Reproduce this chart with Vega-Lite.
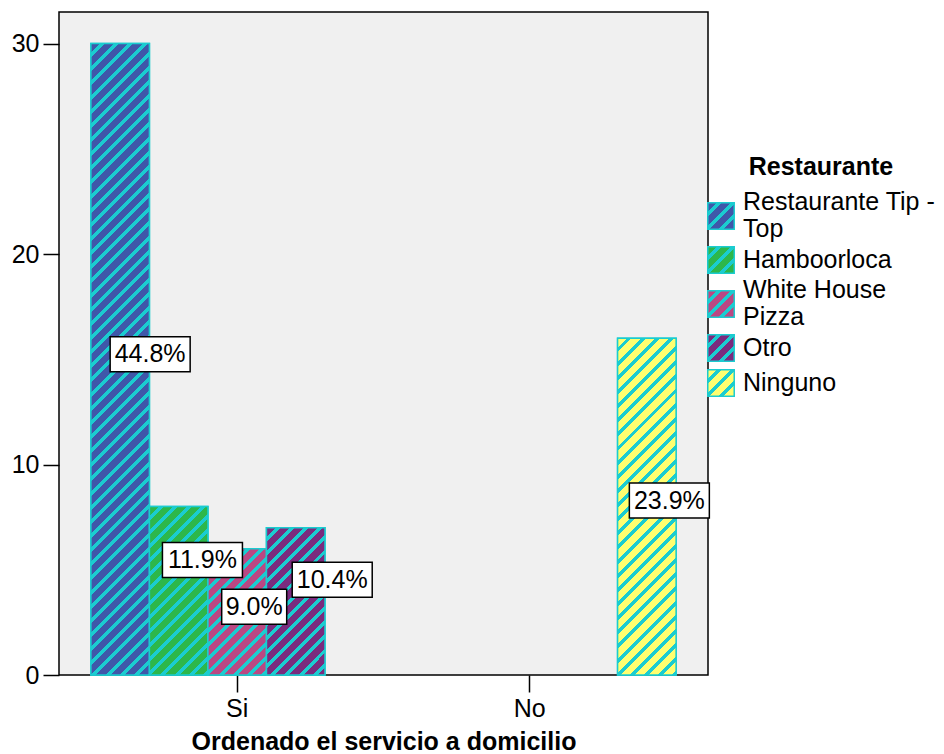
{
  "$schema": "https://vega.github.io/schema/vega-lite/v6.json",
  "width": 649,
  "height": 663,
  "autosize": "none",
  "padding": {"left": 59, "top": 12, "right": 236, "bottom": 79},
  "background": "white",
  "config": {
    "font": "Liberation Sans",
    "view": {"fill": "#F0F0F0", "stroke": "black", "strokeWidth": 1.5},
    "axis": {
      "domain": false,
      "tickColor": "black",
      "tickWidth": 1.5,
      "labelColor": "black",
      "labelFontSize": 25,
      "labelFont": "Liberation Sans",
      "titleColor": "black",
      "titleFontSize": 25,
      "titleFont": "Liberation Sans",
      "titleFontWeight": "bold",
      "grid": false
    }
  },
  "data": {
    "values": [
      {"servicio": "Si", "restaurante": "Restaurante Tip - Top", "count": 30, "pct": "44.8%"},
      {"servicio": "Si", "restaurante": "Hamboorloca", "count": 8, "pct": "11.9%"},
      {"servicio": "Si", "restaurante": "White House Pizza", "count": 6, "pct": "9.0%"},
      {"servicio": "Si", "restaurante": "Otro", "count": 7, "pct": "10.4%"},
      {"servicio": "No", "restaurante": "Ninguno", "count": 16, "pct": "23.9%"}
    ]
  },
  "encoding": {
    "x": {
      "field": "servicio",
      "type": "nominal",
      "sort": ["Si", "No"],
      "scale": {"paddingInner": 0, "paddingOuter": 0.109},
      "title": "Ordenado el servicio a domicilio",
      "axis": {"labelAngle": 0, "tickSize": 17, "labelPadding": 4, "titlePadding": 8}
    },
    "xOffset": {
      "field": "restaurante",
      "type": "nominal",
      "sort": ["Restaurante Tip - Top", "Hamboorloca", "White House Pizza", "Otro", "Ninguno"],
      "scale": {"domain": ["Restaurante Tip - Top", "Hamboorloca", "White House Pizza", "Otro", "Ninguno"]}
    }
  },
  "layer": [
    {
      "mark": {"type": "bar", "stroke": "#1BCCD0", "strokeWidth": 1.5, "opacity": 1},
      "encoding": {
        "y": {
          "field": "count",
          "type": "quantitative",
          "scale": {"domain": [0, 31.5], "nice": false},
          "title": null,
          "axis": {"values": [0, 10, 20, 30], "tickSize": 16, "labelPadding": 4}
        },
        "color": {
          "field": "restaurante",
          "type": "nominal",
          "scale": {
            "domain": ["Restaurante Tip - Top", "Hamboorloca", "White House Pizza", "Otro", "Ninguno"],
            "range": [
              {"expr": "{gradient:'linear',x1:0,y1:0,x2:1.067,y2:1.067,stops:[{offset:0,color:'#3F57A9'},{offset:0.1625,color:'#3F57A9'},{offset:0.1625,color:'#1BCCD0'},{offset:0.25,color:'#1BCCD0'},{offset:0.25,color:'#3F57A9'},{offset:0.4125,color:'#3F57A9'},{offset:0.4125,color:'#1BCCD0'},{offset:0.5,color:'#1BCCD0'},{offset:0.5,color:'#3F57A9'},{offset:0.6625,color:'#3F57A9'},{offset:0.6625,color:'#1BCCD0'},{offset:0.75,color:'#1BCCD0'},{offset:0.75,color:'#3F57A9'},{offset:0.9125,color:'#3F57A9'},{offset:0.9125,color:'#1BCCD0'},{offset:1,color:'#1BCCD0'}]}"},
              {"expr": "{gradient:'linear',x1:0,y1:0,x2:1.067,y2:1.067,stops:[{offset:0,color:'#2DB74B'},{offset:0.1625,color:'#2DB74B'},{offset:0.1625,color:'#1BCCD0'},{offset:0.25,color:'#1BCCD0'},{offset:0.25,color:'#2DB74B'},{offset:0.4125,color:'#2DB74B'},{offset:0.4125,color:'#1BCCD0'},{offset:0.5,color:'#1BCCD0'},{offset:0.5,color:'#2DB74B'},{offset:0.6625,color:'#2DB74B'},{offset:0.6625,color:'#1BCCD0'},{offset:0.75,color:'#1BCCD0'},{offset:0.75,color:'#2DB74B'},{offset:0.9125,color:'#2DB74B'},{offset:0.9125,color:'#1BCCD0'},{offset:1,color:'#1BCCD0'}]}"},
              {"expr": "{gradient:'linear',x1:0,y1:0,x2:1.067,y2:1.067,stops:[{offset:0,color:'#BA4883'},{offset:0.1625,color:'#BA4883'},{offset:0.1625,color:'#1BCCD0'},{offset:0.25,color:'#1BCCD0'},{offset:0.25,color:'#BA4883'},{offset:0.4125,color:'#BA4883'},{offset:0.4125,color:'#1BCCD0'},{offset:0.5,color:'#1BCCD0'},{offset:0.5,color:'#BA4883'},{offset:0.6625,color:'#BA4883'},{offset:0.6625,color:'#1BCCD0'},{offset:0.75,color:'#1BCCD0'},{offset:0.75,color:'#BA4883'},{offset:0.9125,color:'#BA4883'},{offset:0.9125,color:'#1BCCD0'},{offset:1,color:'#1BCCD0'}]}"},
              {"expr": "{gradient:'linear',x1:0,y1:0,x2:1.067,y2:1.067,stops:[{offset:0,color:'#7A2B7E'},{offset:0.1625,color:'#7A2B7E'},{offset:0.1625,color:'#1BCCD0'},{offset:0.25,color:'#1BCCD0'},{offset:0.25,color:'#7A2B7E'},{offset:0.4125,color:'#7A2B7E'},{offset:0.4125,color:'#1BCCD0'},{offset:0.5,color:'#1BCCD0'},{offset:0.5,color:'#7A2B7E'},{offset:0.6625,color:'#7A2B7E'},{offset:0.6625,color:'#1BCCD0'},{offset:0.75,color:'#1BCCD0'},{offset:0.75,color:'#7A2B7E'},{offset:0.9125,color:'#7A2B7E'},{offset:0.9125,color:'#1BCCD0'},{offset:1,color:'#1BCCD0'}]}"},
              {"expr": "{gradient:'linear',x1:0,y1:0,x2:1.067,y2:1.067,stops:[{offset:0,color:'#FFFF70'},{offset:0.1625,color:'#FFFF70'},{offset:0.1625,color:'#1BCCD0'},{offset:0.25,color:'#1BCCD0'},{offset:0.25,color:'#FFFF70'},{offset:0.4125,color:'#FFFF70'},{offset:0.4125,color:'#1BCCD0'},{offset:0.5,color:'#1BCCD0'},{offset:0.5,color:'#FFFF70'},{offset:0.6625,color:'#FFFF70'},{offset:0.6625,color:'#1BCCD0'},{offset:0.75,color:'#1BCCD0'},{offset:0.75,color:'#FFFF70'},{offset:0.9125,color:'#FFFF70'},{offset:0.9125,color:'#1BCCD0'},{offset:1,color:'#1BCCD0'}]}"}
            ]
          },
          "legend": {
            "orient": "none",
            "legendX": 648,
            "legendY": 143,
            "padding": 0,
            "title": "Restaurante",
            "titleAnchor": "middle",
            "titleFontSize": 25,
            "titleFontWeight": "bold",
            "titleColor": "black",
            "titlePadding": 22,
            "labelFontSize": 25,
            "labelColor": "black",
            "labelLimit": 300,
            "labelOffset": 8,
            "labelBaseline": {"expr": "datum.value == 'Restaurante Tip - Top' || datum.value == 'White House Pizza' ? 'line-bottom' : 'middle'"},
            "symbolType": "square",
            "symbolSize": 700,
            "symbolStrokeColor": "#1BCCD0",
            "symbolStrokeWidth": 1.5,
            "symbolOpacity": 1,
            "rowPadding": 1,
            "labelExpr": "datum.label == 'Restaurante Tip - Top' ? ['Restaurante Tip -', 'Top'] : datum.label == 'White House Pizza' ? ['White House', 'Pizza'] : datum.label"
          }
        }
      }
    },
    {
      "transform": [{"filter": "datum.restaurante == 'Restaurante Tip - Top'"}],
      "mark": {"type": "bar", "stroke": "#1BCCD0", "strokeWidth": 1.5, "fill": {"gradient": "linear", "x1": 0, "y1": 0, "x2": 0.1029, "y2": 1.1104, "stops": [
        {"offset":0,"color":"#3F57A9"},{"offset":0.013,"color":"#3F57A9"},{"offset":0.013,"color":"#1BCCD0"},{"offset":0.02,"color":"#1BCCD0"},
        {"offset":0.02,"color":"#3F57A9"},{"offset":0.033,"color":"#3F57A9"},{"offset":0.033,"color":"#1BCCD0"},{"offset":0.04,"color":"#1BCCD0"},
        {"offset":0.04,"color":"#3F57A9"},{"offset":0.053,"color":"#3F57A9"},{"offset":0.053,"color":"#1BCCD0"},{"offset":0.06,"color":"#1BCCD0"},
        {"offset":0.06,"color":"#3F57A9"},{"offset":0.073,"color":"#3F57A9"},{"offset":0.073,"color":"#1BCCD0"},{"offset":0.08,"color":"#1BCCD0"},
        {"offset":0.08,"color":"#3F57A9"},{"offset":0.093,"color":"#3F57A9"},{"offset":0.093,"color":"#1BCCD0"},{"offset":0.1,"color":"#1BCCD0"},
        {"offset":0.1,"color":"#3F57A9"},{"offset":0.113,"color":"#3F57A9"},{"offset":0.113,"color":"#1BCCD0"},{"offset":0.12,"color":"#1BCCD0"},
        {"offset":0.12,"color":"#3F57A9"},{"offset":0.133,"color":"#3F57A9"},{"offset":0.133,"color":"#1BCCD0"},{"offset":0.14,"color":"#1BCCD0"},
        {"offset":0.14,"color":"#3F57A9"},{"offset":0.153,"color":"#3F57A9"},{"offset":0.153,"color":"#1BCCD0"},{"offset":0.16,"color":"#1BCCD0"},
        {"offset":0.16,"color":"#3F57A9"},{"offset":0.173,"color":"#3F57A9"},{"offset":0.173,"color":"#1BCCD0"},{"offset":0.18,"color":"#1BCCD0"},
        {"offset":0.18,"color":"#3F57A9"},{"offset":0.193,"color":"#3F57A9"},{"offset":0.193,"color":"#1BCCD0"},{"offset":0.2,"color":"#1BCCD0"},
        {"offset":0.2,"color":"#3F57A9"},{"offset":0.213,"color":"#3F57A9"},{"offset":0.213,"color":"#1BCCD0"},{"offset":0.22,"color":"#1BCCD0"},
        {"offset":0.22,"color":"#3F57A9"},{"offset":0.233,"color":"#3F57A9"},{"offset":0.233,"color":"#1BCCD0"},{"offset":0.24,"color":"#1BCCD0"},
        {"offset":0.24,"color":"#3F57A9"},{"offset":0.253,"color":"#3F57A9"},{"offset":0.253,"color":"#1BCCD0"},{"offset":0.26,"color":"#1BCCD0"},
        {"offset":0.26,"color":"#3F57A9"},{"offset":0.273,"color":"#3F57A9"},{"offset":0.273,"color":"#1BCCD0"},{"offset":0.28,"color":"#1BCCD0"},
        {"offset":0.28,"color":"#3F57A9"},{"offset":0.293,"color":"#3F57A9"},{"offset":0.293,"color":"#1BCCD0"},{"offset":0.3,"color":"#1BCCD0"},
        {"offset":0.3,"color":"#3F57A9"},{"offset":0.313,"color":"#3F57A9"},{"offset":0.313,"color":"#1BCCD0"},{"offset":0.32,"color":"#1BCCD0"},
        {"offset":0.32,"color":"#3F57A9"},{"offset":0.333,"color":"#3F57A9"},{"offset":0.333,"color":"#1BCCD0"},{"offset":0.34,"color":"#1BCCD0"},
        {"offset":0.34,"color":"#3F57A9"},{"offset":0.353,"color":"#3F57A9"},{"offset":0.353,"color":"#1BCCD0"},{"offset":0.36,"color":"#1BCCD0"},
        {"offset":0.36,"color":"#3F57A9"},{"offset":0.373,"color":"#3F57A9"},{"offset":0.373,"color":"#1BCCD0"},{"offset":0.38,"color":"#1BCCD0"},
        {"offset":0.38,"color":"#3F57A9"},{"offset":0.393,"color":"#3F57A9"},{"offset":0.393,"color":"#1BCCD0"},{"offset":0.4,"color":"#1BCCD0"},
        {"offset":0.4,"color":"#3F57A9"},{"offset":0.413,"color":"#3F57A9"},{"offset":0.413,"color":"#1BCCD0"},{"offset":0.42,"color":"#1BCCD0"},
        {"offset":0.42,"color":"#3F57A9"},{"offset":0.433,"color":"#3F57A9"},{"offset":0.433,"color":"#1BCCD0"},{"offset":0.44,"color":"#1BCCD0"},
        {"offset":0.44,"color":"#3F57A9"},{"offset":0.453,"color":"#3F57A9"},{"offset":0.453,"color":"#1BCCD0"},{"offset":0.46,"color":"#1BCCD0"},
        {"offset":0.46,"color":"#3F57A9"},{"offset":0.473,"color":"#3F57A9"},{"offset":0.473,"color":"#1BCCD0"},{"offset":0.48,"color":"#1BCCD0"},
        {"offset":0.48,"color":"#3F57A9"},{"offset":0.493,"color":"#3F57A9"},{"offset":0.493,"color":"#1BCCD0"},{"offset":0.5,"color":"#1BCCD0"},
        {"offset":0.5,"color":"#3F57A9"},{"offset":0.513,"color":"#3F57A9"},{"offset":0.513,"color":"#1BCCD0"},{"offset":0.52,"color":"#1BCCD0"},
        {"offset":0.52,"color":"#3F57A9"},{"offset":0.533,"color":"#3F57A9"},{"offset":0.533,"color":"#1BCCD0"},{"offset":0.54,"color":"#1BCCD0"},
        {"offset":0.54,"color":"#3F57A9"},{"offset":0.553,"color":"#3F57A9"},{"offset":0.553,"color":"#1BCCD0"},{"offset":0.56,"color":"#1BCCD0"},
        {"offset":0.56,"color":"#3F57A9"},{"offset":0.573,"color":"#3F57A9"},{"offset":0.573,"color":"#1BCCD0"},{"offset":0.58,"color":"#1BCCD0"},
        {"offset":0.58,"color":"#3F57A9"},{"offset":0.593,"color":"#3F57A9"},{"offset":0.593,"color":"#1BCCD0"},{"offset":0.6,"color":"#1BCCD0"},
        {"offset":0.6,"color":"#3F57A9"},{"offset":0.613,"color":"#3F57A9"},{"offset":0.613,"color":"#1BCCD0"},{"offset":0.62,"color":"#1BCCD0"},
        {"offset":0.62,"color":"#3F57A9"},{"offset":0.633,"color":"#3F57A9"},{"offset":0.633,"color":"#1BCCD0"},{"offset":0.64,"color":"#1BCCD0"},
        {"offset":0.64,"color":"#3F57A9"},{"offset":0.653,"color":"#3F57A9"},{"offset":0.653,"color":"#1BCCD0"},{"offset":0.66,"color":"#1BCCD0"},
        {"offset":0.66,"color":"#3F57A9"},{"offset":0.673,"color":"#3F57A9"},{"offset":0.673,"color":"#1BCCD0"},{"offset":0.68,"color":"#1BCCD0"},
        {"offset":0.68,"color":"#3F57A9"},{"offset":0.693,"color":"#3F57A9"},{"offset":0.693,"color":"#1BCCD0"},{"offset":0.7,"color":"#1BCCD0"},
        {"offset":0.7,"color":"#3F57A9"},{"offset":0.713,"color":"#3F57A9"},{"offset":0.713,"color":"#1BCCD0"},{"offset":0.72,"color":"#1BCCD0"},
        {"offset":0.72,"color":"#3F57A9"},{"offset":0.733,"color":"#3F57A9"},{"offset":0.733,"color":"#1BCCD0"},{"offset":0.74,"color":"#1BCCD0"},
        {"offset":0.74,"color":"#3F57A9"},{"offset":0.753,"color":"#3F57A9"},{"offset":0.753,"color":"#1BCCD0"},{"offset":0.76,"color":"#1BCCD0"},
        {"offset":0.76,"color":"#3F57A9"},{"offset":0.773,"color":"#3F57A9"},{"offset":0.773,"color":"#1BCCD0"},{"offset":0.78,"color":"#1BCCD0"},
        {"offset":0.78,"color":"#3F57A9"},{"offset":0.793,"color":"#3F57A9"},{"offset":0.793,"color":"#1BCCD0"},{"offset":0.8,"color":"#1BCCD0"},
        {"offset":0.8,"color":"#3F57A9"},{"offset":0.813,"color":"#3F57A9"},{"offset":0.813,"color":"#1BCCD0"},{"offset":0.82,"color":"#1BCCD0"},
        {"offset":0.82,"color":"#3F57A9"},{"offset":0.833,"color":"#3F57A9"},{"offset":0.833,"color":"#1BCCD0"},{"offset":0.84,"color":"#1BCCD0"},
        {"offset":0.84,"color":"#3F57A9"},{"offset":0.853,"color":"#3F57A9"},{"offset":0.853,"color":"#1BCCD0"},{"offset":0.86,"color":"#1BCCD0"},
        {"offset":0.86,"color":"#3F57A9"},{"offset":0.873,"color":"#3F57A9"},{"offset":0.873,"color":"#1BCCD0"},{"offset":0.88,"color":"#1BCCD0"},
        {"offset":0.88,"color":"#3F57A9"},{"offset":0.893,"color":"#3F57A9"},{"offset":0.893,"color":"#1BCCD0"},{"offset":0.9,"color":"#1BCCD0"},
        {"offset":0.9,"color":"#3F57A9"},{"offset":0.913,"color":"#3F57A9"},{"offset":0.913,"color":"#1BCCD0"},{"offset":0.92,"color":"#1BCCD0"},
        {"offset":0.92,"color":"#3F57A9"},{"offset":0.933,"color":"#3F57A9"},{"offset":0.933,"color":"#1BCCD0"},{"offset":0.94,"color":"#1BCCD0"},
        {"offset":0.94,"color":"#3F57A9"},{"offset":0.953,"color":"#3F57A9"},{"offset":0.953,"color":"#1BCCD0"},{"offset":0.96,"color":"#1BCCD0"},
        {"offset":0.96,"color":"#3F57A9"},{"offset":0.973,"color":"#3F57A9"},{"offset":0.973,"color":"#1BCCD0"},{"offset":0.98,"color":"#1BCCD0"},
        {"offset":0.98,"color":"#3F57A9"},{"offset":0.993,"color":"#3F57A9"},{"offset":0.993,"color":"#1BCCD0"},{"offset":1,"color":"#1BCCD0"}
      ]}},
      "encoding": {"y": {"field": "count", "type": "quantitative", "scale": {"domain": [0, 31.5], "nice": false}, "axis": null}}
    },
    {
      "transform": [{"filter": "datum.restaurante == 'Hamboorloca'"}],
      "mark": {"type": "bar", "stroke": "#1BCCD0", "strokeWidth": 1.5, "fill": {"gradient": "linear", "x1": 0, "y1": 0, "x2": 0.5208, "y2": 1.4986, "stops": [
        {"offset":0,"color":"#2DB74B"},{"offset":0.0325,"color":"#2DB74B"},{"offset":0.0325,"color":"#1BCCD0"},{"offset":0.05,"color":"#1BCCD0"},
        {"offset":0.05,"color":"#2DB74B"},{"offset":0.0825,"color":"#2DB74B"},{"offset":0.0825,"color":"#1BCCD0"},{"offset":0.1,"color":"#1BCCD0"},
        {"offset":0.1,"color":"#2DB74B"},{"offset":0.1325,"color":"#2DB74B"},{"offset":0.1325,"color":"#1BCCD0"},{"offset":0.15,"color":"#1BCCD0"},
        {"offset":0.15,"color":"#2DB74B"},{"offset":0.1825,"color":"#2DB74B"},{"offset":0.1825,"color":"#1BCCD0"},{"offset":0.2,"color":"#1BCCD0"},
        {"offset":0.2,"color":"#2DB74B"},{"offset":0.2325,"color":"#2DB74B"},{"offset":0.2325,"color":"#1BCCD0"},{"offset":0.25,"color":"#1BCCD0"},
        {"offset":0.25,"color":"#2DB74B"},{"offset":0.2825,"color":"#2DB74B"},{"offset":0.2825,"color":"#1BCCD0"},{"offset":0.3,"color":"#1BCCD0"},
        {"offset":0.3,"color":"#2DB74B"},{"offset":0.3325,"color":"#2DB74B"},{"offset":0.3325,"color":"#1BCCD0"},{"offset":0.35,"color":"#1BCCD0"},
        {"offset":0.35,"color":"#2DB74B"},{"offset":0.3825,"color":"#2DB74B"},{"offset":0.3825,"color":"#1BCCD0"},{"offset":0.4,"color":"#1BCCD0"},
        {"offset":0.4,"color":"#2DB74B"},{"offset":0.4325,"color":"#2DB74B"},{"offset":0.4325,"color":"#1BCCD0"},{"offset":0.45,"color":"#1BCCD0"},
        {"offset":0.45,"color":"#2DB74B"},{"offset":0.4825,"color":"#2DB74B"},{"offset":0.4825,"color":"#1BCCD0"},{"offset":0.5,"color":"#1BCCD0"},
        {"offset":0.5,"color":"#2DB74B"},{"offset":0.5325,"color":"#2DB74B"},{"offset":0.5325,"color":"#1BCCD0"},{"offset":0.55,"color":"#1BCCD0"},
        {"offset":0.55,"color":"#2DB74B"},{"offset":0.5825,"color":"#2DB74B"},{"offset":0.5825,"color":"#1BCCD0"},{"offset":0.6,"color":"#1BCCD0"},
        {"offset":0.6,"color":"#2DB74B"},{"offset":0.6325,"color":"#2DB74B"},{"offset":0.6325,"color":"#1BCCD0"},{"offset":0.65,"color":"#1BCCD0"},
        {"offset":0.65,"color":"#2DB74B"},{"offset":0.6825,"color":"#2DB74B"},{"offset":0.6825,"color":"#1BCCD0"},{"offset":0.7,"color":"#1BCCD0"},
        {"offset":0.7,"color":"#2DB74B"},{"offset":0.7325,"color":"#2DB74B"},{"offset":0.7325,"color":"#1BCCD0"},{"offset":0.75,"color":"#1BCCD0"},
        {"offset":0.75,"color":"#2DB74B"},{"offset":0.7825,"color":"#2DB74B"},{"offset":0.7825,"color":"#1BCCD0"},{"offset":0.8,"color":"#1BCCD0"},
        {"offset":0.8,"color":"#2DB74B"},{"offset":0.8325,"color":"#2DB74B"},{"offset":0.8325,"color":"#1BCCD0"},{"offset":0.85,"color":"#1BCCD0"}
      ]}},
      "encoding": {"y": {"field": "count", "type": "quantitative", "scale": {"domain": [0, 31.5], "nice": false}, "axis": null}}
    },
    {
      "transform": [{"filter": "datum.restaurante == 'White House Pizza'"}],
      "mark": {"type": "bar", "stroke": "#1BCCD0", "strokeWidth": 1.5, "fill": {"gradient": "linear", "x1": 0, "y1": 0, "x2": 0.8542, "y2": 1.8437, "stops": [
        {"offset":0,"color":"#BA4883"},{"offset":0.0325,"color":"#BA4883"},{"offset":0.0325,"color":"#1BCCD0"},{"offset":0.05,"color":"#1BCCD0"},
        {"offset":0.05,"color":"#BA4883"},{"offset":0.0825,"color":"#BA4883"},{"offset":0.0825,"color":"#1BCCD0"},{"offset":0.1,"color":"#1BCCD0"},
        {"offset":0.1,"color":"#BA4883"},{"offset":0.1325,"color":"#BA4883"},{"offset":0.1325,"color":"#1BCCD0"},{"offset":0.15,"color":"#1BCCD0"},
        {"offset":0.15,"color":"#BA4883"},{"offset":0.1825,"color":"#BA4883"},{"offset":0.1825,"color":"#1BCCD0"},{"offset":0.2,"color":"#1BCCD0"},
        {"offset":0.2,"color":"#BA4883"},{"offset":0.2325,"color":"#BA4883"},{"offset":0.2325,"color":"#1BCCD0"},{"offset":0.25,"color":"#1BCCD0"},
        {"offset":0.25,"color":"#BA4883"},{"offset":0.2825,"color":"#BA4883"},{"offset":0.2825,"color":"#1BCCD0"},{"offset":0.3,"color":"#1BCCD0"},
        {"offset":0.3,"color":"#BA4883"},{"offset":0.3325,"color":"#BA4883"},{"offset":0.3325,"color":"#1BCCD0"},{"offset":0.35,"color":"#1BCCD0"},
        {"offset":0.35,"color":"#BA4883"},{"offset":0.3825,"color":"#BA4883"},{"offset":0.3825,"color":"#1BCCD0"},{"offset":0.4,"color":"#1BCCD0"},
        {"offset":0.4,"color":"#BA4883"},{"offset":0.4325,"color":"#BA4883"},{"offset":0.4325,"color":"#1BCCD0"},{"offset":0.45,"color":"#1BCCD0"},
        {"offset":0.45,"color":"#BA4883"},{"offset":0.4825,"color":"#BA4883"},{"offset":0.4825,"color":"#1BCCD0"},{"offset":0.5,"color":"#1BCCD0"},
        {"offset":0.5,"color":"#BA4883"},{"offset":0.5325,"color":"#BA4883"},{"offset":0.5325,"color":"#1BCCD0"},{"offset":0.55,"color":"#1BCCD0"},
        {"offset":0.55,"color":"#BA4883"},{"offset":0.5825,"color":"#BA4883"},{"offset":0.5825,"color":"#1BCCD0"},{"offset":0.6,"color":"#1BCCD0"},
        {"offset":0.6,"color":"#BA4883"},{"offset":0.6325,"color":"#BA4883"},{"offset":0.6325,"color":"#1BCCD0"},{"offset":0.65,"color":"#1BCCD0"},
        {"offset":0.65,"color":"#BA4883"},{"offset":0.6825,"color":"#BA4883"},{"offset":0.6825,"color":"#1BCCD0"},{"offset":0.7,"color":"#1BCCD0"},
        {"offset":0.7,"color":"#BA4883"},{"offset":0.7325,"color":"#BA4883"},{"offset":0.7325,"color":"#1BCCD0"},{"offset":0.75,"color":"#1BCCD0"}
      ]}},
      "encoding": {"y": {"field": "count", "type": "quantitative", "scale": {"domain": [0, 31.5], "nice": false}, "axis": null}}
    },
    {
      "transform": [{"filter": "datum.restaurante == 'Otro'"}],
      "mark": {"type": "bar", "stroke": "#1BCCD0", "strokeWidth": 1.5, "fill": {"gradient": "linear", "x1": 0, "y1": 0, "x2": 0.6589, "y2": 1.6584, "stops": [
        {"offset":0,"color":"#7A2B7E"},{"offset":0.0325,"color":"#7A2B7E"},{"offset":0.0325,"color":"#1BCCD0"},{"offset":0.05,"color":"#1BCCD0"},
        {"offset":0.05,"color":"#7A2B7E"},{"offset":0.0825,"color":"#7A2B7E"},{"offset":0.0825,"color":"#1BCCD0"},{"offset":0.1,"color":"#1BCCD0"},
        {"offset":0.1,"color":"#7A2B7E"},{"offset":0.1325,"color":"#7A2B7E"},{"offset":0.1325,"color":"#1BCCD0"},{"offset":0.15,"color":"#1BCCD0"},
        {"offset":0.15,"color":"#7A2B7E"},{"offset":0.1825,"color":"#7A2B7E"},{"offset":0.1825,"color":"#1BCCD0"},{"offset":0.2,"color":"#1BCCD0"},
        {"offset":0.2,"color":"#7A2B7E"},{"offset":0.2325,"color":"#7A2B7E"},{"offset":0.2325,"color":"#1BCCD0"},{"offset":0.25,"color":"#1BCCD0"},
        {"offset":0.25,"color":"#7A2B7E"},{"offset":0.2825,"color":"#7A2B7E"},{"offset":0.2825,"color":"#1BCCD0"},{"offset":0.3,"color":"#1BCCD0"},
        {"offset":0.3,"color":"#7A2B7E"},{"offset":0.3325,"color":"#7A2B7E"},{"offset":0.3325,"color":"#1BCCD0"},{"offset":0.35,"color":"#1BCCD0"},
        {"offset":0.35,"color":"#7A2B7E"},{"offset":0.3825,"color":"#7A2B7E"},{"offset":0.3825,"color":"#1BCCD0"},{"offset":0.4,"color":"#1BCCD0"},
        {"offset":0.4,"color":"#7A2B7E"},{"offset":0.4325,"color":"#7A2B7E"},{"offset":0.4325,"color":"#1BCCD0"},{"offset":0.45,"color":"#1BCCD0"},
        {"offset":0.45,"color":"#7A2B7E"},{"offset":0.4825,"color":"#7A2B7E"},{"offset":0.4825,"color":"#1BCCD0"},{"offset":0.5,"color":"#1BCCD0"},
        {"offset":0.5,"color":"#7A2B7E"},{"offset":0.5325,"color":"#7A2B7E"},{"offset":0.5325,"color":"#1BCCD0"},{"offset":0.55,"color":"#1BCCD0"},
        {"offset":0.55,"color":"#7A2B7E"},{"offset":0.5825,"color":"#7A2B7E"},{"offset":0.5825,"color":"#1BCCD0"},{"offset":0.6,"color":"#1BCCD0"},
        {"offset":0.6,"color":"#7A2B7E"},{"offset":0.6325,"color":"#7A2B7E"},{"offset":0.6325,"color":"#1BCCD0"},{"offset":0.65,"color":"#1BCCD0"},
        {"offset":0.65,"color":"#7A2B7E"},{"offset":0.6825,"color":"#7A2B7E"},{"offset":0.6825,"color":"#1BCCD0"},{"offset":0.7,"color":"#1BCCD0"},
        {"offset":0.7,"color":"#7A2B7E"},{"offset":0.7325,"color":"#7A2B7E"},{"offset":0.7325,"color":"#1BCCD0"},{"offset":0.75,"color":"#1BCCD0"},
        {"offset":0.75,"color":"#7A2B7E"},{"offset":0.7825,"color":"#7A2B7E"},{"offset":0.7825,"color":"#1BCCD0"},{"offset":0.8,"color":"#1BCCD0"}
      ]}},
      "encoding": {"y": {"field": "count", "type": "quantitative", "scale": {"domain": [0, 31.5], "nice": false}, "axis": null}}
    },
    {
      "transform": [{"filter": "datum.restaurante == 'Ninguno'"}],
      "mark": {"type": "bar", "stroke": "#1BCCD0", "strokeWidth": 1.5, "fill": {"gradient": "linear", "x1": 0, "y1": 0, "x2": 0.2833, "y2": 1.6304, "stops": [
        {"offset":0,"color":"#FFFF70"},{"offset":0.01625,"color":"#FFFF70"},{"offset":0.01625,"color":"#1BCCD0"},{"offset":0.025,"color":"#1BCCD0"},
        {"offset":0.025,"color":"#FFFF70"},{"offset":0.04125,"color":"#FFFF70"},{"offset":0.04125,"color":"#1BCCD0"},{"offset":0.05,"color":"#1BCCD0"},
        {"offset":0.05,"color":"#FFFF70"},{"offset":0.06625,"color":"#FFFF70"},{"offset":0.06625,"color":"#1BCCD0"},{"offset":0.075,"color":"#1BCCD0"},
        {"offset":0.075,"color":"#FFFF70"},{"offset":0.09125,"color":"#FFFF70"},{"offset":0.09125,"color":"#1BCCD0"},{"offset":0.1,"color":"#1BCCD0"},
        {"offset":0.1,"color":"#FFFF70"},{"offset":0.11625,"color":"#FFFF70"},{"offset":0.11625,"color":"#1BCCD0"},{"offset":0.125,"color":"#1BCCD0"},
        {"offset":0.125,"color":"#FFFF70"},{"offset":0.14125,"color":"#FFFF70"},{"offset":0.14125,"color":"#1BCCD0"},{"offset":0.15,"color":"#1BCCD0"},
        {"offset":0.15,"color":"#FFFF70"},{"offset":0.16625,"color":"#FFFF70"},{"offset":0.16625,"color":"#1BCCD0"},{"offset":0.175,"color":"#1BCCD0"},
        {"offset":0.175,"color":"#FFFF70"},{"offset":0.19125,"color":"#FFFF70"},{"offset":0.19125,"color":"#1BCCD0"},{"offset":0.2,"color":"#1BCCD0"},
        {"offset":0.2,"color":"#FFFF70"},{"offset":0.21625,"color":"#FFFF70"},{"offset":0.21625,"color":"#1BCCD0"},{"offset":0.225,"color":"#1BCCD0"},
        {"offset":0.225,"color":"#FFFF70"},{"offset":0.24125,"color":"#FFFF70"},{"offset":0.24125,"color":"#1BCCD0"},{"offset":0.25,"color":"#1BCCD0"},
        {"offset":0.25,"color":"#FFFF70"},{"offset":0.26625,"color":"#FFFF70"},{"offset":0.26625,"color":"#1BCCD0"},{"offset":0.275,"color":"#1BCCD0"},
        {"offset":0.275,"color":"#FFFF70"},{"offset":0.29125,"color":"#FFFF70"},{"offset":0.29125,"color":"#1BCCD0"},{"offset":0.3,"color":"#1BCCD0"},
        {"offset":0.3,"color":"#FFFF70"},{"offset":0.31625,"color":"#FFFF70"},{"offset":0.31625,"color":"#1BCCD0"},{"offset":0.325,"color":"#1BCCD0"},
        {"offset":0.325,"color":"#FFFF70"},{"offset":0.34125,"color":"#FFFF70"},{"offset":0.34125,"color":"#1BCCD0"},{"offset":0.35,"color":"#1BCCD0"},
        {"offset":0.35,"color":"#FFFF70"},{"offset":0.36625,"color":"#FFFF70"},{"offset":0.36625,"color":"#1BCCD0"},{"offset":0.375,"color":"#1BCCD0"},
        {"offset":0.375,"color":"#FFFF70"},{"offset":0.39125,"color":"#FFFF70"},{"offset":0.39125,"color":"#1BCCD0"},{"offset":0.4,"color":"#1BCCD0"},
        {"offset":0.4,"color":"#FFFF70"},{"offset":0.41625,"color":"#FFFF70"},{"offset":0.41625,"color":"#1BCCD0"},{"offset":0.425,"color":"#1BCCD0"},
        {"offset":0.425,"color":"#FFFF70"},{"offset":0.44125,"color":"#FFFF70"},{"offset":0.44125,"color":"#1BCCD0"},{"offset":0.45,"color":"#1BCCD0"},
        {"offset":0.45,"color":"#FFFF70"},{"offset":0.46625,"color":"#FFFF70"},{"offset":0.46625,"color":"#1BCCD0"},{"offset":0.475,"color":"#1BCCD0"},
        {"offset":0.475,"color":"#FFFF70"},{"offset":0.49125,"color":"#FFFF70"},{"offset":0.49125,"color":"#1BCCD0"},{"offset":0.5,"color":"#1BCCD0"},
        {"offset":0.5,"color":"#FFFF70"},{"offset":0.51625,"color":"#FFFF70"},{"offset":0.51625,"color":"#1BCCD0"},{"offset":0.525,"color":"#1BCCD0"},
        {"offset":0.525,"color":"#FFFF70"},{"offset":0.54125,"color":"#FFFF70"},{"offset":0.54125,"color":"#1BCCD0"},{"offset":0.55,"color":"#1BCCD0"},
        {"offset":0.55,"color":"#FFFF70"},{"offset":0.56625,"color":"#FFFF70"},{"offset":0.56625,"color":"#1BCCD0"},{"offset":0.575,"color":"#1BCCD0"},
        {"offset":0.575,"color":"#FFFF70"},{"offset":0.59125,"color":"#FFFF70"},{"offset":0.59125,"color":"#1BCCD0"},{"offset":0.6,"color":"#1BCCD0"},
        {"offset":0.6,"color":"#FFFF70"},{"offset":0.61625,"color":"#FFFF70"},{"offset":0.61625,"color":"#1BCCD0"},{"offset":0.625,"color":"#1BCCD0"},
        {"offset":0.625,"color":"#FFFF70"},{"offset":0.64125,"color":"#FFFF70"},{"offset":0.64125,"color":"#1BCCD0"},{"offset":0.65,"color":"#1BCCD0"},
        {"offset":0.65,"color":"#FFFF70"},{"offset":0.66625,"color":"#FFFF70"},{"offset":0.66625,"color":"#1BCCD0"},{"offset":0.675,"color":"#1BCCD0"},
        {"offset":0.675,"color":"#FFFF70"},{"offset":0.69125,"color":"#FFFF70"},{"offset":0.69125,"color":"#1BCCD0"},{"offset":0.7,"color":"#1BCCD0"},
        {"offset":0.7,"color":"#FFFF70"},{"offset":0.71625,"color":"#FFFF70"},{"offset":0.71625,"color":"#1BCCD0"},{"offset":0.725,"color":"#1BCCD0"}
      ]}},
      "encoding": {"y": {"field": "count", "type": "quantitative", "scale": {"domain": [0, 31.5], "nice": false}, "axis": null}}
    },
    {
      "transform": [{"filter": "datum.pct == '44.8%'"}],
      "mark": {"type": "point", "shape": "M-0.25,-0.5625L1.75,-0.5625L1.75,0.3125L-0.25,0.3125Z", "size": 6400, "filled": true, "fill": "white", "stroke": "black", "strokeWidth": 1.5, "opacity": 1},
      "encoding": {"y": {"field": "count", "type": "quantitative", "scale": {"domain": [0, 63], "nice": false}, "axis": null}}
    },
    {
      "transform": [{"filter": "datum.pct == '44.8%'"}],
      "mark": {"type": "text", "fontSize": 25, "dx": 30, "dy": -5, "align": "center", "baseline": "middle", "color": "black"},
      "encoding": {"y": {"field": "count", "type": "quantitative", "scale": {"domain": [0, 63], "nice": false}, "axis": null}, "text": {"field": "pct"}}
    },
    {
      "transform": [{"filter": "datum.pct == '11.9%'"}],
      "mark": {"type": "point", "shape": "M-0.406,-1.2075L1.594,-1.2075L1.594,-0.3325L-0.406,-0.3325Z", "size": 6400, "filled": true, "fill": "white", "stroke": "black", "strokeWidth": 1.5, "opacity": 1},
      "encoding": {"y": {"field": "count", "type": "quantitative", "scale": {"domain": [0, 63], "nice": false}, "axis": null}}
    },
    {
      "transform": [{"filter": "datum.pct == '11.9%'"}],
      "mark": {"type": "text", "fontSize": 25, "dx": 23.75, "dy": -30.8, "align": "center", "baseline": "middle", "color": "black"},
      "encoding": {"y": {"field": "count", "type": "quantitative", "scale": {"domain": [0, 63], "nice": false}, "axis": null}, "text": {"field": "pct"}}
    },
    {
      "transform": [{"filter": "datum.pct == '9.0%'"}],
      "mark": {"type": "point", "shape": "M-0.3875,-0.5675L1.2375,-0.5675L1.2375,0.3075L-0.3875,0.3075Z", "size": 6400, "filled": true, "fill": "white", "stroke": "black", "strokeWidth": 1.5, "opacity": 1},
      "encoding": {"y": {"field": "count", "type": "quantitative", "scale": {"domain": [0, 63], "nice": false}, "axis": null}}
    },
    {
      "transform": [{"filter": "datum.pct == '9.0%'"}],
      "mark": {"type": "text", "fontSize": 25, "dx": 17, "dy": -5.2, "align": "center", "baseline": "middle", "color": "black"},
      "encoding": {"y": {"field": "count", "type": "quantitative", "scale": {"domain": [0, 63], "nice": false}, "axis": null}, "text": {"field": "pct"}}
    },
    {
      "transform": [{"filter": "datum.pct == '10.4%'"}],
      "mark": {"type": "point", "shape": "M-0.0875,-0.9775L1.9125,-0.9775L1.9125,-0.1025L-0.0875,-0.1025Z", "size": 6400, "filled": true, "fill": "white", "stroke": "black", "strokeWidth": 1.5, "opacity": 1},
      "encoding": {"y": {"field": "count", "type": "quantitative", "scale": {"domain": [0, 63], "nice": false}, "axis": null}}
    },
    {
      "transform": [{"filter": "datum.pct == '10.4%'"}],
      "mark": {"type": "text", "fontSize": 25, "dx": 36.5, "dy": -21.6, "align": "center", "baseline": "middle", "color": "black"},
      "encoding": {"y": {"field": "count", "type": "quantitative", "scale": {"domain": [0, 63], "nice": false}, "axis": null}, "text": {"field": "pct"}}
    },
    {
      "transform": [{"filter": "datum.pct == '23.9%'"}],
      "mark": {"type": "point", "shape": "M-0.4375,-0.59L1.5625,-0.59L1.5625,0.285L-0.4375,0.285Z", "size": 6400, "filled": true, "fill": "white", "stroke": "black", "strokeWidth": 1.5, "opacity": 1},
      "encoding": {"y": {"field": "count", "type": "quantitative", "scale": {"domain": [0, 63], "nice": false}, "axis": null}}
    },
    {
      "transform": [{"filter": "datum.pct == '23.9%'"}],
      "mark": {"type": "text", "fontSize": 25, "dx": 22.5, "dy": -6.1, "align": "center", "baseline": "middle", "color": "black"},
      "encoding": {"y": {"field": "count", "type": "quantitative", "scale": {"domain": [0, 63], "nice": false}, "axis": null}, "text": {"field": "pct"}}
    }
  ],
  "resolve": {"scale": {"y": "independent"}}
}
